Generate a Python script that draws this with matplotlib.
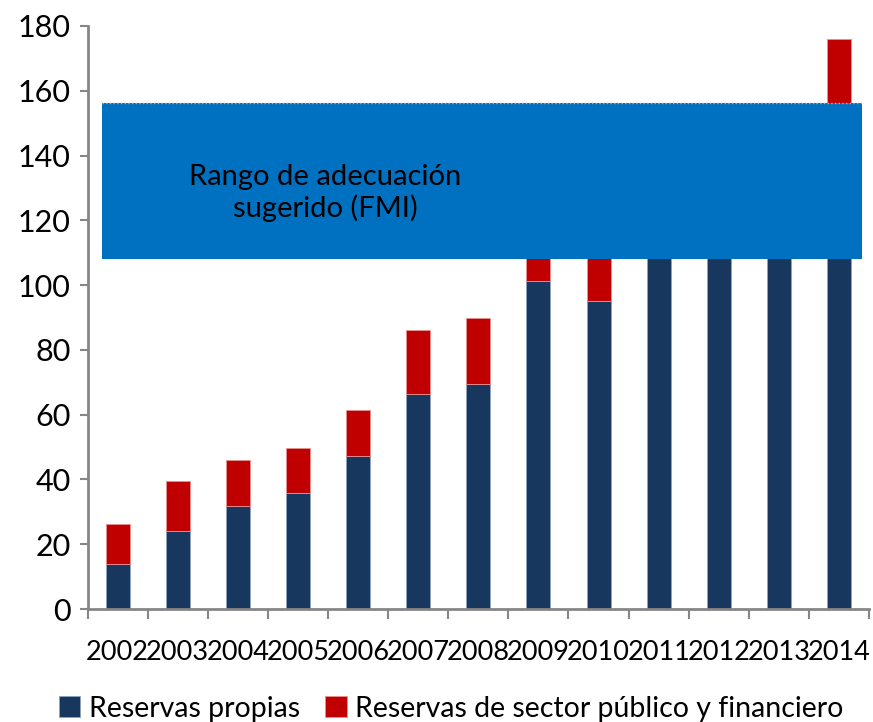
import matplotlib.pyplot as plt
import numpy as np

years = ['2002', '2003', '2004', '2005', '2006', '2007', '2008',
         '2009', '2010', '2011', '2012', '2013', '2014']
propias = [14.0, 24.2, 31.9, 35.8, 47.3, 66.4, 69.5, 101.2, 95.0, 120, 135, 145, 150]
sector = [12.2, 15.3, 14.0, 13.8, 14.1, 19.7, 20.3, 18, 25, 15, 18, 8, 26]
fmi_low, fmi_high = 108.2, 156.2
y_ticks = [0, 20, 40, 60, 80, 100, 120, 140, 160, 180]

plt.rcParams['font.family'] = ['Lato', 'DejaVu Sans']

navy = '#17375E'
red = '#C00000'
blue = '#0070C0'
grey = '#868686'

fig = plt.figure(figsize=(8.73, 7.22), dpi=100)
ax = fig.add_axes([0.1003, 0.1565, 0.8952, 0.8075])

x = np.arange(len(years))
b1 = ax.bar(x, propias, 0.4, color=navy, edgecolor='#8EA3C0', linewidth=0.6, zorder=2)
b2 = ax.bar(x, sector, 0.4, bottom=propias, color=red, edgecolor='#E89090',
            linewidth=0.6, zorder=2)

# suggested adequacy range band, drawn over the bars
ax.fill_between([-0.26, 12.38], fmi_low, fmi_high, color=blue, linewidth=0, zorder=3)
ax.plot([-0.26, 12.38], [fmi_high, fmi_high], color='#B0B0B0', linestyle=':',
        linewidth=1, zorder=4)
ax.text(3.46, 128.5, 'Rango de adecuación\nsugerido (FMI)', ha='center', va='center',
        fontsize=21, color='black', linespacing=1.2, zorder=5)

ax.set_xlim(-0.5, len(years) - 0.5)
ax.set_ylim(0, 180)
ax.set_yticks(y_ticks)
ax.tick_params(axis='y', labelsize=22, colors=grey, labelcolor='black',
               length=6, width=1.5, pad=6)

ax.set_xticks(x)
ax.set_xticklabels(years)
ax.tick_params(axis='x', which='major', length=0, labelsize=19.5, pad=22)
ax.set_xticks(np.arange(-0.5, len(years), 1), minor=True)
ax.tick_params(axis='x', which='minor', length=7, width=1.5, color=grey)

for s in ['top', 'right']:
    ax.spines[s].set_visible(False)
for s in ['left', 'bottom']:
    ax.spines[s].set_color(grey)
    ax.spines[s].set_linewidth(2)

fig.legend([b1, b2], ['Reservas propias', 'Reservas de sector público y financiero'],
           loc='lower left', bbox_to_anchor=(0.038, -0.035), ncol=2, frameon=False,
           fontsize=20.5, handlelength=0.75, handleheight=0.75, handletextpad=0.3,
           columnspacing=0.9)

fig.savefig('out.png', dpi=100)
